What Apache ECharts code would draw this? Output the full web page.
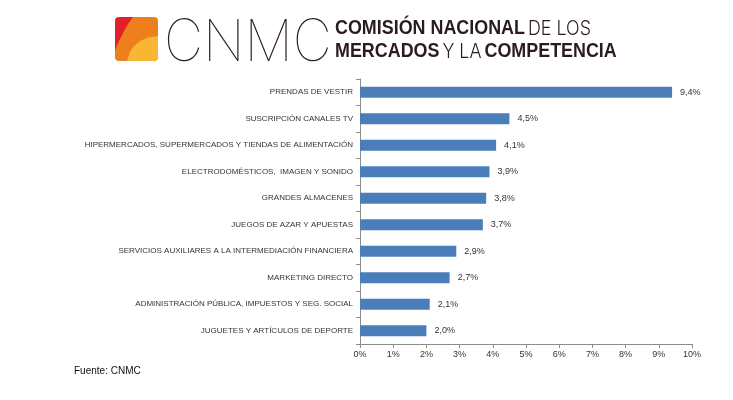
<!DOCTYPE html>
<html lang="es">
<head>
    <meta charset="UTF-8" />
    <title>CNMC - reclamaciones por sector</title>
    <script src="https://cdn.jsdelivr.net/npm/echarts@6/dist/echarts.min.js"></script>
    <style>
        body { margin: 0; background: #fff; }
        #chart { width: 733px; height: 400px; }
    </style>
</head>
<body>
    <div id="chart"></div>
    <script>
        // datos
        const sectores = [
            'PRENDAS DE VESTIR',
            'SUSCRIPCIÓN CANALES TV',
            'HIPERMERCADOS, SUPERMERCADOS Y TIENDAS DE ALIMENTACIÓN',
            'ELECTRODOMÉSTICOS,  IMAGEN Y SONIDO',
            'GRANDES ALMACENES',
            'JUEGOS DE AZAR Y APUESTAS',
            'SERVICIOS AUXILIARES A LA INTERMEDIACIÓN FINANCIERA',
            'MARKETING DIRECTO',
            'ADMINISTRACIÓN PÚBLICA, IMPUESTOS Y SEG. SOCIAL',
            'JUGUETES Y ARTÍCULOS DE DEPORTE'
        ];
        const porcentajes = [9.4, 4.5, 4.1, 3.9, 3.8, 3.7, 2.9, 2.7, 2.1, 2.0];
        const ejeMax = 10;
        const fuente = 'Fuente: CNMC';

        const chart = echarts.init(document.getElementById('chart'));
        const txt = '#2a1b20';

        const option = {
            animation: false,
            grid: { left: 360, right: 41, top: 79, bottom: 56, containLabel: false },
            xAxis: {
                type: 'value',
                min: 0,
                max: ejeMax,
                interval: 1,
                splitLine: { show: false },
                axisLine: { show: true, lineStyle: { color: '#8c8c8c', width: 1 } },
                axisTick: { show: true, length: 4, lineStyle: { color: '#8c8c8c' } },
                axisLabel: {
                    formatter: v => v + '%',
                    color: '#333',
                    fontSize: 9,
                    fontFamily: 'Liberation Sans',
                    margin: 6
                }
            },
            yAxis: {
                type: 'category',
                data: sectores,
                inverse: true,
                axisLine: { show: true, lineStyle: { color: '#8c8c8c', width: 1 } },
                axisTick: { show: true, length: 4, lineStyle: { color: '#8c8c8c' } },
                axisLabel: {
                    color: '#333',
                    fontSize: 8,
                    fontFamily: 'Liberation Sans',
                    margin: 7
                }
            },
            series: [{
                type: 'bar',
                data: porcentajes,
                barWidth: 11,
                itemStyle: { color: '#4a7ebb' },
                label: {
                    show: true,
                    position: 'right',
                    distance: 8,
                    color: '#333',
                    fontSize: 9,
                    fontFamily: 'Liberation Sans',
                    formatter: p => p.value.toFixed(1).replace('.', ',') + '%'
                }
            }],
            graphic: [
                // logo: cuadrado de colores
                {
                    type: 'rect',
                    shape: { x: 115, y: 17, width: 43, height: 44, r: 4 },
                    style: { fill: '#ee7f1d' }
                },
                {
                    type: 'polygon',
                    shape: { points: [[158, 36], [148, 37.5], [140, 41], [134, 46], [130, 52], [127, 61], [154, 61], [157, 60], [158, 57]] },
                    style: { fill: '#f9b534' }
                },
                {
                    type: 'polygon',
                    shape: { points: [[115, 21], [116, 18], [119, 17], [133, 17], [128, 24], [124, 31], [120, 39], [117, 45], [115, 51]] },
                    style: { fill: '#e3202a' }
                },
                {
                    type: 'text',
                    x: 164,
                    y: 15,
                    scaleX: 0.93,
                    style: {
                        text: 'CNMC',
                        font: '100 58px Inter',
                        fill: txt,
                        verticalAlign: 'top'
                    }
                },
                {
                    type: 'text',
                    x: 335,
                    y: 17,
                    scaleX: 0.895,
                    style: {
                        text: '{b|COMISIÓN NACIONAL} {l|DE LOS}\n{b|MERCADOS} {l|Y LA} {b|COMPETENCIA}',
                        fill: txt,
                        verticalAlign: 'top',
                        rich: {
                            b: { fontFamily: 'Liberation Sans', fontWeight: 'bold', fontSize: 20, lineHeight: 23, fill: txt },
                            l: { fontFamily: 'Inter', fontWeight: 300, fontSize: 20, lineHeight: 23, fill: txt }
                        }
                    }
                },
                {
                    type: 'text',
                    left: 74,
                    top: 366,
                    style: {
                        text: fuente,
                        font: '10px Liberation Sans',
                        fill: '#111'
                    }
                }
            ]
        };

        chart.setOption(option);
    </script>
</body>
</html>
